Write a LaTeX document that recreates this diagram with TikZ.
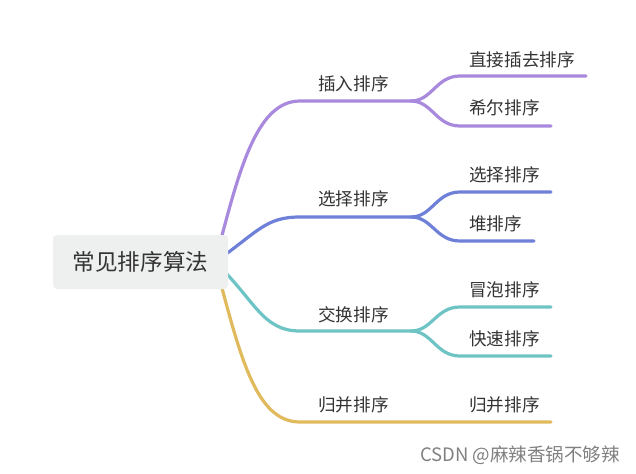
\documentclass[tikz,border=0pt]{standalone}
\usepackage{fontspec}
\setmainfont{Noto Sans CJK SC}
\newfontfamily\cjk{Noto Sans CJK SC}
\definecolor{cpur}{RGB}{168,137,221}
\definecolor{cblu}{RGB}{111,128,216}
\definecolor{ctea}{RGB}{110,196,196}
\definecolor{cyel}{RGB}{224,186,92}
\definecolor{croot}{RGB}{238,240,239}
\definecolor{ctxt}{RGB}{51,51,51}
\begin{document}
\begin{tikzpicture}[x=1pt,y=-1pt,
  branch/.style={line width=3.2pt,line cap=round},
  lbl/.style={text=ctxt,font=\cjk\fontsize{17.6}{20}\selectfont,inner sep=0pt},
  sublbl/.style={lbl,anchor=west}]
\useasboundingbox (0,0) rectangle (636,473);
% anchor coordinates
\coordinate (o) at (215,262);
\coordinate (p1) at (300,101); \coordinate (p2) at (411,101);
\coordinate (b1) at (300,217); \coordinate (b2) at (411,217);
\coordinate (t1) at (300,331); \coordinate (t2) at (411,331);
\coordinate (y1) at (300,422); \coordinate (y2) at (551,422);
\coordinate (pa) at (586,76);  \coordinate (pb) at (551,126);
\coordinate (ba) at (551,192); \coordinate (bb) at (534,241);
\coordinate (ta) at (551,307); \coordinate (tb) at (551,356);
% main branches
\draw[branch,cpur] (o) .. controls (238,175) and (255,101) .. (p1) -- (p2);
\draw[branch,cblu] (o) .. controls (258,232) and (265,217) .. (b1) -- (b2);
\draw[branch,ctea] (o) .. controls (255,300) and (262,331) .. (t1) -- (t2);
\draw[branch,cyel] (o) .. controls (240,355) and (255,422) .. (y1) -- (y2);
% sub branches
\draw[branch,cpur] (p2) .. controls (432,101) and (436,76) .. (460,76) -- (pa);
\draw[branch,cpur] (p2) .. controls (432,101) and (436,126) .. (460,126) -- (pb);
\draw[branch,cblu] (b2) .. controls (432,217) and (436,192) .. (460,192) -- (ba);
\draw[branch,cblu] (b2) .. controls (432,217) and (436,241) .. (460,241) -- (bb);
\draw[branch,ctea] (t2) .. controls (432,331) and (436,307) .. (460,307) -- (ta);
\draw[branch,ctea] (t2) .. controls (432,331) and (436,356) .. (460,356) -- (tb);
% root
\node[fill=croot,rounded corners=4pt,minimum width=175pt,minimum height=54pt,
  text=ctxt,font=\cjk\fontsize{22.6}{26}\selectfont] (root) at (140.5,262) {常见排序算法};
% labels
\node[lbl] (l1) at (353.5,84) {插入排序};
\node[lbl] (l2) at (353.5,199) {选择排序};
\node[lbl] (l3) at (353.5,315) {交换排序};
\node[lbl] (l4) at (353.5,405) {归并排序};
\node[sublbl] (s1) at (469,60) {直接插去排序};
\node[sublbl] (s2) at (469,108) {希尔排序};
\node[sublbl] (s3) at (469,175) {选择排序};
\node[sublbl] (s4) at (469,224) {堆排序};
\node[sublbl] (s5) at (469,290) {冒泡排序};
\node[sublbl] (s6) at (469,339) {快速排序};
\node[sublbl] (s7) at (469,405) {归并排序};
% watermark
\node[anchor=east,inner sep=0pt,text=black!50,font=\cjk\fontsize{18.5}{22}\selectfont] (wm) at (620,455) {CSDN @麻辣香锅不够辣};
\end{tikzpicture}
\end{document}
